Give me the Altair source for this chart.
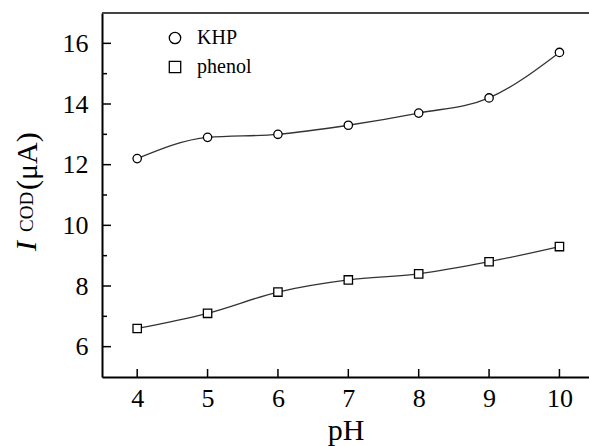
import altair as alt
import pandas as pd

ph = [4, 5, 6, 7, 8, 9, 10]
khp = [12.2, 12.9, 13.0, 13.3, 13.7, 14.2, 15.7]
phenol = [6.6, 7.1, 7.8, 8.2, 8.4, 8.8, 9.3]
series_names = ["KHP", "phenol"]
y_major = [6, 8, 10, 12, 14, 16]
y_minor = [7, 9, 11, 13, 15]
x_ticks = [4, 5, 6, 7, 8, 9, 10]

rows = []
for name, vals in zip(series_names, [khp, phenol]):
    for p, v in zip(ph, vals):
        rows.append({"pH": p, "I": v, "series": name})
df = pd.DataFrame(rows)

W, H = 487, 364
FONT = "Liberation Serif"

xs = alt.Scale(domain=[3.5, 10.42], nice=False, zero=False)
ys = alt.Scale(domain=[5, 17], nice=False, zero=False)
shape_scale = alt.Scale(domain=series_names, range=["circle", "square"])

x_enc = alt.X("pH:Q", scale=xs, axis=alt.Axis(
    values=x_ticks, format="d", tickSize=0, grid=False, domainColor="black", domainWidth=2,
    labelFont=FONT, labelFontSize=26, labelColor="black", labelPadding=8, labelFlush=False,
    title="pH", titleFont=FONT, titleFontSize=30, titleFontWeight="normal",
    titleColor="black", titlePadding=4))
y_enc = alt.Y("I:Q", scale=ys, axis=alt.Axis(
    values=y_major, format="d", tickSize=0, grid=False, domainColor="black", domainWidth=2,
    labelFont=FONT, labelFontSize=26, labelColor="black", labelPadding=14, title=None))

base = alt.Chart(df)
lines = base.mark_line(interpolate="monotone", color="#333", strokeWidth=1.3).encode(
    x=x_enc, y=y_enc, detail="series:N")
points = base.mark_point(fill="white", stroke="black", strokeWidth=1.3, opacity=1,
                         fillOpacity=1, size=70).encode(
    x="pH:Q", y="I:Q",
    shape=alt.Shape("series:N", scale=shape_scale, legend=None))

# legend drawn from the same shape scale, one entry per series
leg_layers = []
for i, name in enumerate(series_names):
    ldf = pd.DataFrame({"series": [name]})
    yy = 25 + 29 * i
    leg_layers.append(alt.Chart(ldf).mark_point(
        fill="white", stroke="black", strokeWidth=1.3, opacity=1, fillOpacity=1, size=130).encode(
        x=alt.value(73), y=alt.value(yy),
        shape=alt.Shape("series:N", scale=shape_scale, legend=None)))
    leg_layers.append(alt.Chart(ldf).mark_text(
        align="left", baseline="middle", font=FONT, fontSize=20, color="black").encode(
        x=alt.value(95), y=alt.value(yy), text="series:N"))

ymaj = alt.Chart(pd.DataFrame({"v": y_major})).mark_rule(color="black", strokeWidth=1.5).encode(
    y=alt.Y("v:Q", scale=ys), x=alt.value(0), x2=alt.value(9))
ymin = alt.Chart(pd.DataFrame({"v": y_minor})).mark_rule(color="black", strokeWidth=1.5).encode(
    y=alt.Y("v:Q", scale=ys), x=alt.value(0), x2=alt.value(5))
xt = alt.Chart(pd.DataFrame({"v": x_ticks})).mark_rule(color="black", strokeWidth=1.5).encode(
    x=alt.X("v:Q", scale=xs), y=alt.value(H), y2=alt.value(H - 8))
top = alt.Chart(pd.DataFrame({"a": [0]})).mark_rule(color="#444", strokeWidth=2).encode(
    x=alt.value(0), x2=alt.value(W), y=alt.value(0))

t_i = alt.Chart(pd.DataFrame({"t": ["I"]})).mark_text(
    angle=270, align="left", baseline="alphabetic", font=FONT, fontSize=30,
    fontStyle="italic", color="black").encode(x=alt.value(-66), y=alt.value(238), text="t:N")
t_cod = alt.Chart(pd.DataFrame({"t": ["COD"]})).mark_text(
    angle=270, align="left", baseline="alphabetic", font=FONT, fontSize=19,
    color="black").encode(x=alt.value(-69), y=alt.value(219), text="t:N")
t_ua = alt.Chart(pd.DataFrame({"t": ["(μA)"]})).mark_text(
    angle=270, align="left", baseline="alphabetic", font=FONT, fontSize=30,
    color="black").encode(x=alt.value(-65), y=alt.value(177), text="t:N")

chart = alt.layer(lines, points, *leg_layers, ymaj, ymin, xt, top, t_i, t_cod, t_ua).properties(
    width=W, height=H,
    autosize=alt.AutoSizeParams(type="none"),
    padding={"left": 102, "top": 13, "right": 0, "bottom": 69},
    background="white",
).configure_view(stroke=None)

chart.save("out.html", embed_options={"renderer": "svg", "actions": False})
